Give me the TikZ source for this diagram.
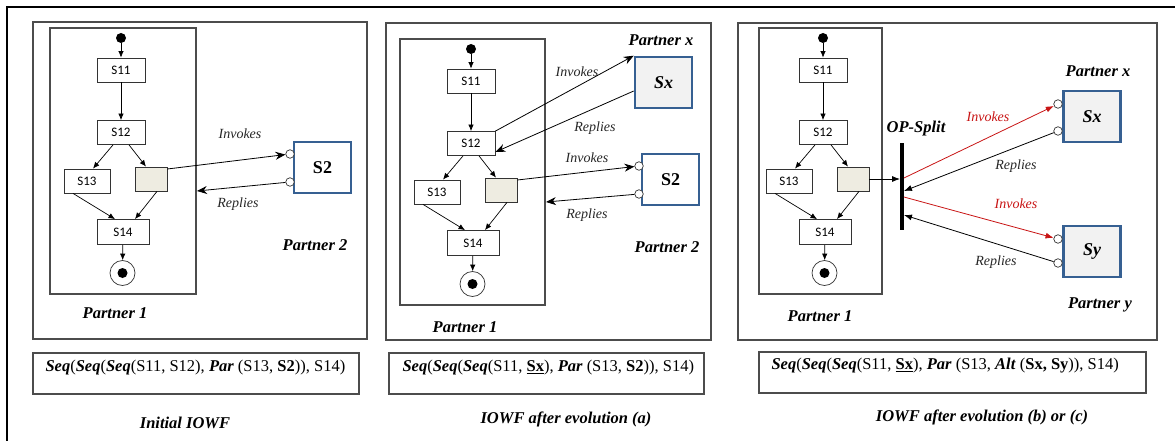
\documentclass[tikz,border=0pt]{standalone}
\usepackage{fontspec}
\setmainfont{Liberation Serif}
\newfontfamily\calibri{Carlito}
\usetikzlibrary{arrows.meta}
\newcommand{\fop}[1]{\textbf{\textit{#1}}}
\definecolor{svcblue}{RGB}{54,96,146}
\definecolor{taskgrey}{RGB}{238,236,225}
\definecolor{callred}{RGB}{200,20,20}

\begin{document}
\begin{tikzpicture}[x=1pt,y=-1pt,
  frame/.style={draw=black!70,line width=1.1pt},
  task/.style={draw=black!80,fill=white,line width=0.8pt,minimum height=24pt,inner sep=0pt,
    font=\calibri\fontsize{13pt}{15pt}\selectfont},
  flow/.style={-{Latex[length=6.5pt,width=5.5pt]},line width=0.7pt},
  call/.style={-{Stealth[length=10pt,width=8pt]},line width=0.8pt},
  split/.style={-{Latex[length=8pt,width=6pt]},line width=0.8pt},
  svc/.style={draw=svcblue,line width=2.6pt,minimum width=57pt,minimum height=51pt,
    font=\fontsize{18pt}{20pt}\selectfont\bfseries},
  port/.style={circle,draw=black!80,fill=white,line width=0.7pt,inner sep=0pt,minimum size=8.5pt},
  lbl/.style={font=\fontsize{16.5pt}{18pt}\selectfont\bfseries\itshape},
  msg/.style={font=\fontsize{14pt}{16pt}\selectfont\itshape,text=black!85},
  formula/.style={anchor=west,font=\fontsize{16.5pt}{18pt}\selectfont}]
\useasboundingbox (0,0) rectangle (1175,441);
\draw[line width=2pt] (7,441) -- (7,7) -- (1175,7);

% the three panels and their formula boxes
\draw[frame] (33,22) rectangle (367,339);
\draw[frame] (386,23) rectangle (711,340);
\draw[frame] (738,23) rectangle (1157,340);
\draw[frame] (33,353) rectangle (359,394);
\draw[frame] (389,353) rectangle (704,394);
\draw[frame] (759,352) rectangle (1146,393);

% workflow of partner 1, once per panel
\foreach \p/\cx/\cy/\bl/\br in {a/121/70/-71/75,b/471/81/-71/74,c/823/70/-64/59}{
\begin{scope}[shift={(\cx,\cy)}]
\draw[frame] (\bl,-42) rectangle (\br,224);
\node[circle,fill=black,inner sep=0pt,minimum width=9pt,minimum height=10pt] (start\p) at (0,-32) {};
\node[task,minimum width=48pt] (s11\p) at (0,0) {S11};
\node[task,minimum width=48pt] (s12\p) at (0,62.5) {S12};
\node[task,minimum width=46pt] (s13\p) at (-34,111) {S13};
\node[task,fill=taskgrey,minimum width=32pt] (grey\p) at (30,109) {};
\node[task,minimum width=52pt,minimum height=25pt] (s14\p) at (2,162) {S14};
\node[circle,draw=black!80,line width=0.7pt,minimum size=25pt,inner sep=0pt] (end\p) at (1.5,203) {};
\fill (end\p) circle (5pt);
\draw[flow] (start\p) -- (s11\p);
\draw[flow] (s11\p) -- (s12\p);
\draw[flow] ([xshift=-8pt]s12\p.south) -- ([xshift=6pt]s13\p.north);
\draw[flow] ([xshift=8pt]s12\p.south) -- ([xshift=-5pt]grey\p.north);
\draw[flow] ([xshift=-14pt]s13\p.south) -- ([xshift=-8pt]s14\p.north);
\draw[flow] ([xshift=6pt]grey\p.south) -- ([xshift=12pt]s14\p.north);
\draw[flow] (s14\p) -- (end\p);
\end{scope}
}

% panel a: initial IOWF
\node[svc] (s2a) at (322.5,167.5) {S2};
\node[port] (ia) at (290,154) {};
\node[port] (ra) at (290,182) {};
\coordinate (ha) at (197,191);
\draw[call] ([yshift=10pt]greya.east) -- (ia);
\draw[call] (ra) -- (ha);
\node[msg] (inva) at (240,134) {Invokes};
\node[msg] (repa) at (238,204) {Replies};
\node[lbl] (p2a) at (315,245) {Partner 2};
\node[lbl] (p1a) at (115,313) {Partner 1};
\node[formula] (fa) at (42,368) {\fop{Seq}(\fop{Seq}(\fop{Seq}(S11, S12), \fop{Par} (S13, \textbf{S2})), S14)};
\node[lbl] (capa) at (185,423) {Initial IOWF};

% panel b: after evolution (a)
\node[lbl] (pxb) at (661,40) {Partner x};
\node[svc,fill=black!5,font=\fontsize{18pt}{20pt}\selectfont\bfseries\itshape] (sxb) at (663.5,82.5) {Sx};
\draw[call] (s12b.north east) -- (sxb.north west);
\draw[call] ([yshift=-8.5pt]sxb.west) -- ([yshift=-8.5pt]s12b.east);
\node[msg] (invxb) at (577,72) {Invokes};
\node[msg] (repxb) at (595,128) {Replies};
\node[svc] (s2b) at (670.5,179.5) {S2};
\node[port] (ib) at (639,166) {};
\node[port] (rb) at (639,194) {};
\coordinate (hb) at (546,202);
\draw[call] ([yshift=10pt]greyb.east) -- (ib);
\draw[call] (rb) -- (hb);
\node[msg] (invb) at (587,158) {Invokes};
\node[msg] (repb) at (587,215) {Replies};
\node[lbl] (p2b) at (667,247) {Partner 2};
\node[lbl] (p1b) at (465,327) {Partner 1};
\node[formula] (fb) at (399,368) {\fop{Seq}(\fop{Seq}(\fop{Seq}(S11, \underline{\textbf{Sx}}), \fop{Par} (S13, \textbf{S2})), S14)};
\node[lbl] (capb) at (566,419) {IOWF after evolution (a)};

% panel c: after evolution (b) or (c)
\node[fill=black,inner sep=0pt,minimum width=3.5pt,minimum height=87pt] (splitc) at (902,186.5) {};
\node[lbl] (opc) at (916,129) {OP-Split};
\draw[split] (greyc.east) -- (greyc.east -| splitc.west);
\node[lbl] (pxc) at (1098,71) {Partner x};
\node[svc,fill=black!5,font=\fontsize{18pt}{20pt}\selectfont\bfseries\itshape] (sxc) at (1092,116.5) {Sx};
\node[port] (ixc) at (1058,104) {};
\node[port] (rxc) at (1058,131) {};
\node[svc,fill=black!5,font=\fontsize{18pt}{20pt}\selectfont\bfseries\itshape] (syc) at (1092,251.5) {Sy};
\node[port] (iyc) at (1058,239) {};
\node[port] (ryc) at (1058,263) {};
\draw[split,callred] ([yshift=8.5pt]splitc.east) -- (ixc);
\draw[split] (rxc) -- ([yshift=-4.5pt]splitc.east);
\draw[split,callred] ([yshift=-10.5pt]splitc.east) -- (iyc);
\draw[split] (ryc) -- ([yshift=-28.5pt]splitc.east);
\node[msg,text=callred] (invxc) at (988,117) {Invokes};
\node[msg] (repxc) at (1016,166) {Replies};
\node[msg,text=callred] (invyc) at (1016,204) {Invokes};
\node[msg] (repyc) at (996,262) {Replies};
\node[lbl] (pyc) at (1100,305) {Partner y};
\node[lbl] (p1c) at (820,316) {Partner 1};
\node[formula] (fc) at (768,366) {\fop{Seq}(\fop{Seq}(\fop{Seq}(S11, \underline{\textbf{Sx}}), \fop{Par} (S13, \fop{Alt} (\textbf{Sx, Sy})), S14)};
\node[lbl] (capc) at (982,417) {IOWF after evolution (b) or (c)};
\end{tikzpicture}
\end{document}
